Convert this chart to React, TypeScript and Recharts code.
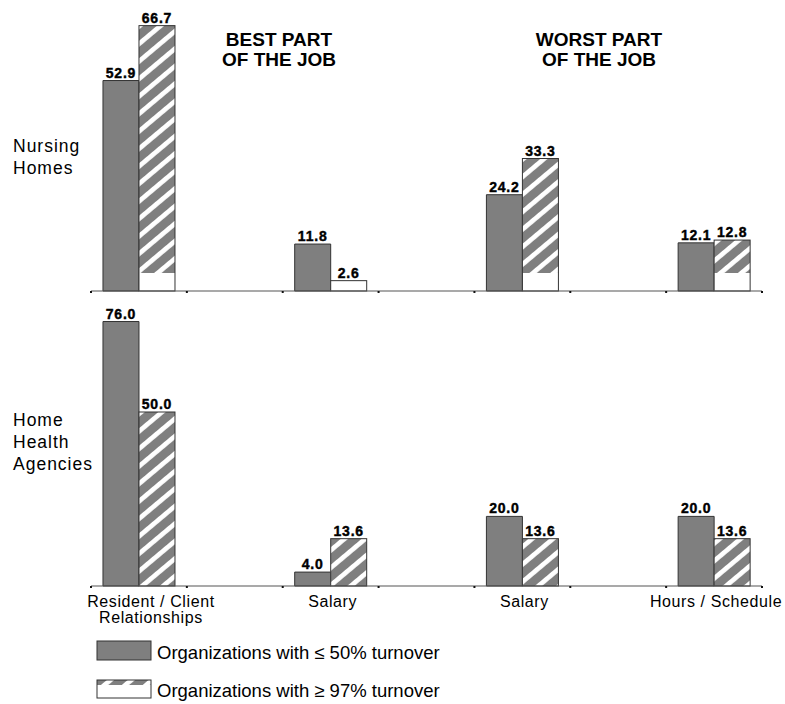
import { BarChart, Bar, XAxis, YAxis, LabelList } from "recharts";

// 7 slots: bars sit in slots 0, 2, 4, 6; odd slots are spacers
const slots = ["s0", "s1", "s2", "s3", "s4", "s5", "s6"];
const slotLabels = [
  ["Resident / Client", "Relationships"],
  [],
  ["Salary"],
  [],
  ["Salary"],
  [],
  ["Hours / Schedule"],
];

const nursingLow = [52.9, null, 11.8, null, 24.2, null, 12.1];
const nursingHigh = [66.7, null, 2.6, null, 33.3, null, 12.8];
const homeLow = [76.0, null, 4.0, null, 20.0, null, 20.0];
const homeHigh = [50.0, null, 13.6, null, 13.6, null, 13.6];

const bestTitle = ["BEST PART", "OF THE JOB"];
const worstTitle = ["WORST PART", "OF THE JOB"];
const nursingName = ["Nursing", "Homes"];
const homeName = ["Home", "Health", "Agencies"];
const legendLabels = [
  "Organizations with \u2264 50% turnover",
  "Organizations with \u2265 97% turnover",
];

const FONT = "'Liberation Sans', Arial, sans-serif";
const W = 785;
const LEFT = 91;
const RIGHT = 762;
const BAND = (RIGHT - LEFT) / slots.length;
const DARK = "#7f7f7f";
const EDGE = "#333";

const nursingRows = slots.map((s, i) => ({ slot: s, low: nursingLow[i], high: nursingHigh[i] }));
const homeRows = slots.map((s, i) => ({ slot: s, low: homeLow[i], high: homeHigh[i] }));

function makeTick(showLabels: boolean) {
  return (props: any) => {
    const { x, y, payload } = props;
    const i = payload?.index ?? props.index ?? 0;
    const lines = showLabels ? slotLabels[i] : [];
    const dx = i === 0 ? 12 : 2;
    return (
      <g>
        <rect x={x - BAND / 2 - 1} y={y} width={2} height={2} fill="#111" />
        {i === slots.length - 1 && (
          <rect x={x + BAND / 2 - 1} y={y} width={2} height={2} fill="#111" />
        )}
        {lines.map((t, k) => (
          <text
            key={k}
            x={x + dx}
            y={y + 21 + k * 16}
            textAnchor="middle"
            fontFamily={FONT}
            fontSize={16}
            letterSpacing={0.6}
            fill="#000"
          >
            {t}
          </text>
        ))}
      </g>
    );
  };
}

// hatched bar; in the nursing panel the hatch stops short of the baseline
function hatchShape(cutoff: number) {
  return (props: any) => {
    const { x, y, width, height } = props;
    if (!height || height <= 0) return <g />;
    const h = Math.max(0, height - cutoff);
    return (
      <g>
        <rect x={x} y={y} width={width} height={height} fill="#fff" />
        {h > 0 && <rect x={x} y={y} width={width} height={h} fill="url(#hatch)" />}
        <rect x={x} y={y} width={width} height={height} fill="none" stroke={EDGE} strokeWidth={1} />
      </g>
    );
  };
}

const valueLabel = (p: any) => {
  const { x, y, width, value } = p;
  if (value == null) return null;
  return (
    <text
      x={x + width / 2}
      y={y - 3}
      textAnchor="middle"
      fontFamily={FONT}
      fontSize={14}
      fontWeight={700}
      letterSpacing={0.8}
      fill="#000"
      stroke="#000"
      strokeWidth={0.4}
    >
      {Number(value).toFixed(1)}
    </text>
  );
};

function Panel(props: {
  rows: any[];
  top: number;
  height: number;
  marginTop: number;
  axisHeight: number;
  max: number;
  cutoff: number;
  showLabels: boolean;
}) {
  const { rows, top, height, marginTop, axisHeight, max, cutoff, showLabels } = props;
  return (
    <div style={{ position: "absolute", left: 0, top }}>
      <BarChart
        width={W}
        height={height}
        data={rows}
        margin={{ top: marginTop, right: W - RIGHT, left: LEFT, bottom: 0 }}
        barCategoryGap="12.5%"
        barGap={0}
      >
        <XAxis
          dataKey="slot"
          height={axisHeight}
          axisLine={{ stroke: "#555", strokeWidth: 1.2 }}
          tickLine={false}
          tickSize={0}
          tickMargin={0}
          interval={0}
          tick={makeTick(showLabels)}
        />
        <YAxis hide width={0} domain={[0, max]} />
        <Bar dataKey="low" fill={DARK} stroke={EDGE} strokeWidth={1} isAnimationActive={false}>
          <LabelList dataKey="low" content={valueLabel} />
        </Bar>
        <Bar dataKey="high" shape={hatchShape(cutoff)} isAnimationActive={false}>
          <LabelList dataKey="high" content={valueLabel} />
        </Bar>
      </BarChart>
    </div>
  );
}

export default function App() {
  return (
    <div
      style={{
        position: "absolute",
        left: 0,
        top: 0,
        width: W,
        height: 704,
        background: "#fff",
        fontFamily: FONT,
      }}
    >
      <svg width={0} height={0} style={{ position: "absolute" }}>
        <defs>
          <pattern
            id="hatch"
            patternUnits="userSpaceOnUse"
            width={12}
            height={13.4}
            patternTransform="rotate(-40)"
          >
            <rect x={0} y={0} width={12} height={13.4} fill={DARK} />
            <rect x={0} y={0} width={12} height={4.7} fill="#fff" />
          </pattern>
        </defs>
      </svg>

      <Panel rows={nursingRows} top={0} height={300} marginTop={12.5} axisHeight={9} max={70} cutoff={18} showLabels={false} />
      <Panel rows={homeRows} top={300} height={330} marginTop={7.6} axisHeight={44} max={80} cutoff={0} showLabels={true} />

      <svg
        width={W}
        height={704}
        style={{ position: "absolute", left: 0, top: 0, pointerEvents: "none" }}
      >
        {bestTitle.map((t, k) => (
          <text key={"b" + k} x={279} y={46 + k * 20} textAnchor="middle" fontFamily={FONT} fontSize={19} fontWeight={700}>
            {t}
          </text>
        ))}
        {worstTitle.map((t, k) => (
          <text key={"w" + k} x={599} y={46 + k * 20} textAnchor="middle" fontFamily={FONT} fontSize={19} fontWeight={700}>
            {t}
          </text>
        ))}
        {nursingName.map((t, k) => (
          <text key={"n" + k} x={13} y={152 + k * 22} fontFamily={FONT} fontSize={17.5} letterSpacing={1}>
            {t}
          </text>
        ))}
        {homeName.map((t, k) => (
          <text key={"h" + k} x={13} y={426 + k * 22} fontFamily={FONT} fontSize={17.5} letterSpacing={1}>
            {t}
          </text>
        ))}

        <rect x={97} y={641} width={54} height={19} fill={DARK} stroke={EDGE} />
        <text x={157} y={659} fontFamily={FONT} fontSize={18.5}>
          {legendLabels[0]}
        </text>

        <rect x={97} y={680} width={54} height={18} fill="#fff" />
        <rect x={97} y={680} width={54} height={5} fill="url(#hatch)" />
        <rect x={97} y={680} width={54} height={18} fill="none" stroke={EDGE} />
        <text x={157} y={697} fontFamily={FONT} fontSize={18.5}>
          {legendLabels[1]}
        </text>
      </svg>
    </div>
  );
}
